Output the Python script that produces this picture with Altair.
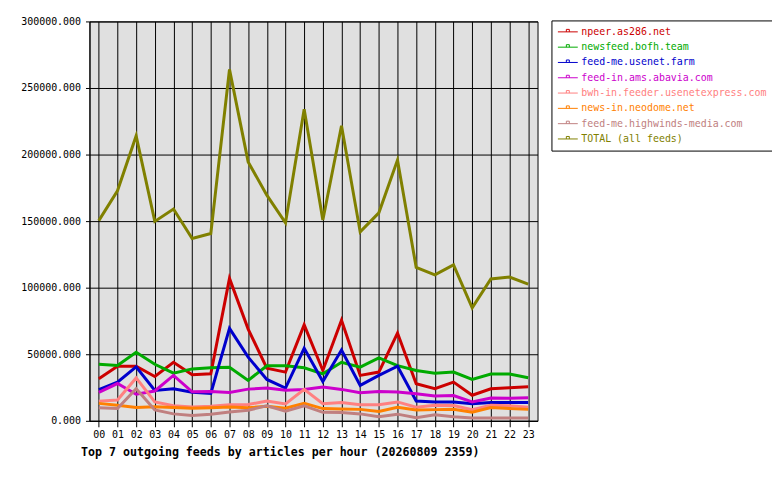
import altair as alt
import pandas as pd

# hours of the day
hours = ["%02d" % h for h in range(24)]

series = [
    "npeer.as286.net",
    "newsfeed.bofh.team",
    "feed-me.usenet.farm",
    "feed-in.ams.abavia.com",
    "bwh-in.feeder.usenetexpress.com",
    "news-in.neodome.net",
    "feed-me.highwinds-media.com",
    "TOTAL (all feeds)",
]
colors = ["#cc0000", "#00aa00", "#0000cc", "#cc00cc",
          "#ff8080", "#ff8000", "#c08080", "#808000"]

npeer = [31600, 41000, 41000, 33300, 44000, 34600, 35300, 107000, 68900, 39600, 36600, 72100,
         37800, 75600, 34100, 36600, 65900, 27900, 24100, 29100, 19200, 24100, 24900, 25600]
bofh = [42500, 41500, 51500, 42500, 35800, 39000, 39800, 40300, 30400, 41300, 41300, 39800,
        35300, 44000, 40300, 47300, 41500, 37800, 35800, 36600, 31100, 35100, 35100, 32300]
farm = [23400, 29000, 40500, 22800, 24100, 21400, 20600, 69400, 47800, 31100, 24600, 54500,
        29600, 53200, 26600, 34100, 41000, 14900, 14200, 14200, 12900, 13700, 13700, 13700]
abavia = [21400, 28000, 20000, 22400, 34100, 21800, 22000, 21300, 23800, 24600, 23000, 23500,
          25400, 23600, 21100, 22100, 21600, 20400, 18700, 19000, 14200, 17200, 17000, 17400]
usenetexpress = [14800, 15600, 32200, 14200, 11300, 10400, 11000, 12000, 12200, 14900, 12600, 23600,
                 12900, 13700, 12000, 12000, 14200, 10200, 11700, 11500, 8400, 11700, 11400, 10200]
neodome = [13100, 11700, 10000, 10600, 10000, 9400, 9800, 10400, 9800, 10900, 9400, 13100,
           9200, 8800, 8600, 7000, 10200, 8200, 8400, 8700, 6500, 10000, 9200, 8600]
highwinds = [9800, 9200, 24100, 8200, 5200, 4000, 5000, 6700, 8000, 11200, 7200, 11200,
             6400, 6200, 5200, 3000, 5000, 2300, 4500, 3000, 2200, 2200, 2200, 2200]
total = [150400, 172800, 214000, 149800, 159100, 137000, 140700, 264000, 194500, 169500, 148700, 234000,
         150800, 221600, 141900, 156200, 195900, 115200, 109700, 117100, 84900, 106600, 108000, 102600]

values = [npeer, bofh, farm, abavia, usenetexpress, neodome, highwinds, total]

rows = []
for name, vals in zip(series, values):
    for h, v in zip(hours, vals):
        rows.append({"hour": h, "feed": name, "articles": v})
source = pd.DataFrame(rows)

FONT = "DejaVu Sans Mono"

# legend symbol: a line with a small square on it
symbol = "M-1,0H3M0.7,0V-0.5H1.3V0"

lines = alt.Chart(source).mark_line(strokeWidth=3).encode(
    x=alt.X("hour:O", sort=hours,
            scale=alt.Scale(type="point", padding=0.5),
            axis=alt.Axis(title="Top 7 outgoing feeds by articles per hour (20260809 2359)",
                          titleFont=FONT, titleFontSize=11.7, titleFontWeight="bold",
                          titleAnchor="start", titleAlign="left", titleBaseline="middle",
                          titleX=-9, titleY=31,
                          labelAngle=0, tickSize=6, labelPadding=3)),
    y=alt.Y("articles:Q",
            scale=alt.Scale(domain=[0, 300000], nice=False),
            axis=alt.Axis(title=None, values=list(range(0, 300001, 50000)),
                          format=".3f", tickSize=4, labelPadding=5)),
    color=alt.Color("feed:N", sort=series,
                    scale=alt.Scale(domain=series, range=colors),
                    legend=alt.Legend(title=None, orient="none", legendX=465, legendY=-1,
                                      symbolType=symbol, symbolSize=100, symbolStrokeWidth=1,
                                      labelOffset=13, labelFont=FONT, labelFontSize=10,
                                      labelColor=alt.ExprRef(expr="scale('color', datum.value)"),
                                      rowPadding=4.4, padding=6,
                                      strokeColor="black", fillColor="white",
                                      labelLimit=300)),
    order=alt.Order("feed_idx:Q"),
).transform_calculate(
    feed_idx="indexof(%s, datum.feed)" % str(series).replace("'", '"')
)

chart = lines.properties(
    width=451, height=402,
    autosize=alt.AutoSizeParams(type="none"),
    padding={"left": 82, "top": 12, "right": 236, "bottom": 50},
).configure_view(
    fill="#e0e0e0", stroke="black", strokeWidth=1
).configure_axis(
    grid=True, gridColor="black", gridWidth=1, gridOpacity=1,
    domainColor="black", domainWidth=1, tickColor="black",
    labelFont=FONT, labelFontSize=10, labelColor="black",
)

chart.save("out.html", embed_options={"renderer": "svg", "actions": False})
